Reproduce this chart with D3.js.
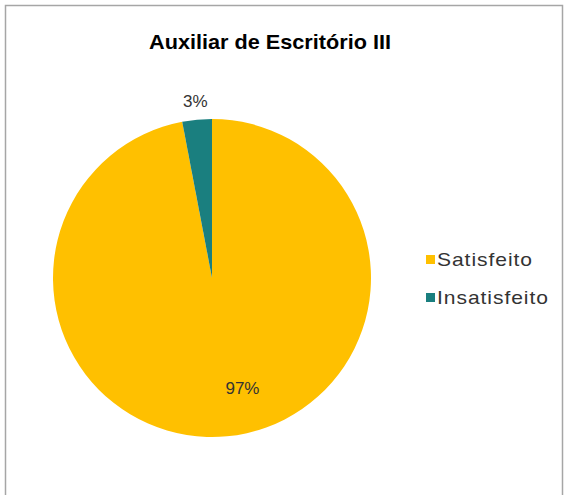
<!DOCTYPE html>
<html><head><meta charset="utf-8">
<script src="https://cdn.jsdelivr.net/npm/d3@7"></script>
<style>html,body{margin:0;padding:0;background:#fff}svg{display:block}</style>
</head><body>
<svg id="c" width="565" height="495"></svg>
<script>
const categories = ["Satisfeito", "Insatisfeito"];
const values = [97, 3];
const labels = ["97%", "3%"];
const colors = ["#FFC000", "#1A7F7F"];
const title = "Auxiliar de Escritório III";

const svg = d3.select("#c");
svg.append("rect").attr("x",5.5).attr("y",5.5).attr("width",557).attr("height",500)
  .attr("fill","#fff").attr("stroke","#a6a6a6").attr("stroke-width",1.5);

svg.append("text").attr("x",270).attr("y",49).attr("text-anchor","middle")
  .attr("font-family","Liberation Sans, Arial, sans-serif").attr("font-weight","bold")
  .attr("font-size",21).attr("textLength",242).attr("lengthAdjust","spacingAndGlyphs")
  .attr("fill","#000").text(title);

const cx = 212, cy = 278, r = 159;
const pie = d3.pie().sort(null).value(d=>d);
const arcs = pie(values);
const arc = d3.arc().innerRadius(0).outerRadius(r);
const g = svg.append("g").attr("transform",`translate(${cx},${cy})`);
g.selectAll("path").data(arcs).join("path").attr("d",arc).attr("fill",(d,i)=>colors[i]);

// labels
const inner = d3.arc().innerRadius(r*0.72).outerRadius(r*0.72);
const outer = d3.arc().innerRadius(r*1.12).outerRadius(r*1.12);
g.selectAll("text.lbl").data(arcs).join("text").attr("class","lbl")
  .attr("transform",(d,i)=>{
    let p;
    if (i===0) p = inner.centroid({startAngle:d.startAngle, endAngle:d.endAngle - 0.35});
    else p = outer.centroid(d);
    return `translate(${p[0]},${p[1]})`;})
  .attr("text-anchor","middle").attr("dy","0.35em")
  .attr("font-family","Liberation Sans, Arial, sans-serif").attr("font-size",17)
  .attr("fill","#333").text((d,i)=>labels[i]);

// legend
const lg = svg.append("g").attr("transform","translate(426,251)");
const item = lg.selectAll("g").data(categories).join("g").attr("transform",(d,i)=>`translate(0,${i*38})`);
item.append("rect").attr("x",0).attr("y",4).attr("width",9).attr("height",9).attr("fill",(d,i)=>colors[i]);
item.append("text").attr("transform","translate(11,15) scale(1.17,1)")
  .attr("font-family","Liberation Sans, Arial, sans-serif")
  .attr("font-size",18).attr("letter-spacing",0.8).attr("fill","#333").text(d=>d);
</script>
</body></html>
